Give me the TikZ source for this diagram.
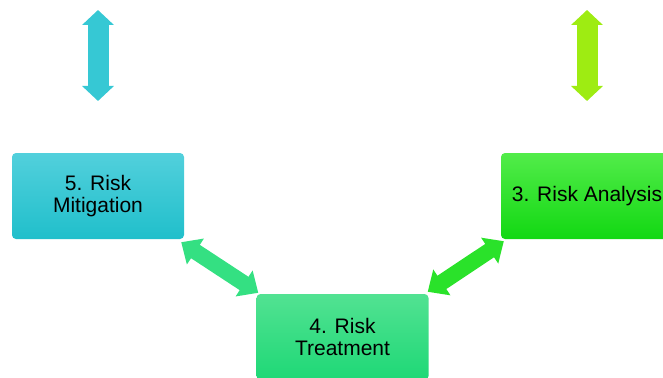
\documentclass[tikz,border=0pt]{standalone}
\usepackage{fontspec}
\setmainfont{Liberation Sans}
\usetikzlibrary{arrows.meta,calc}
\definecolor{cyanTop}{HTML}{52D0DC}
\definecolor{cyanBot}{HTML}{20BFCB}
\definecolor{grnTop}{HTML}{52EC4A}
\definecolor{grnBot}{HTML}{12D812}
\definecolor{mintTop}{HTML}{52E292}
\definecolor{mintBot}{HTML}{1ED876}
\definecolor{mintArr}{HTML}{34E082}
\definecolor{grnArr}{HTML}{2AE22A}
\definecolor{cyanArr}{HTML}{36C8D4}
\definecolor{limeArr}{HTML}{9EEC12}
\begin{document}
\begin{tikzpicture}[x=1pt,y=-1pt,
  stepbox/.style={rounded corners=4pt, minimum width=172pt, minimum height=86pt,
    inner sep=0pt, align=center, font=\fontsize{21}{22.5}\selectfont},
  varrow/.style={line width=21pt, {Triangle[width=31pt,length=15pt]}-{Triangle[width=31pt,length=15pt]}},
  darrow/.style={line width=16pt, {Triangle[width=30pt,length=17pt]}-{Triangle[width=30pt,length=17pt]}}]
\useasboundingbox (0,0) rectangle (663,377);
\clip (0,0) rectangle (663,377);
\node[stepbox, top color=cyanTop, bottom color=cyanBot] (m) at (98,196) {5. Risk\\Mitigation};
\node[stepbox, top color=grnTop, bottom color=grnBot] (a) at (587,196) {3. Risk Analysis};
\node[stepbox, top color=mintTop, bottom color=mintBot] (t) at (342.5,337) {4. Risk\\Treatment};
\coordinate (l1) at (98,10);
\coordinate (l2) at (98,101);
\coordinate (r1) at (587,10);
\coordinate (r2) at (587,101);
\draw[varrow, cyanArr] (l1) -- (l2);
\draw[varrow, limeArr] (r1) -- (r2);
\draw[darrow, mintArr] ($(m.south east)+(-3,3)$) -- ($(t.north west)+(2,-1)$);
\draw[darrow, grnArr] ($(a.south west)+(3,2)$) -- ($(t.north east)+(-1,-2)$);
\end{tikzpicture}
\end{document}
